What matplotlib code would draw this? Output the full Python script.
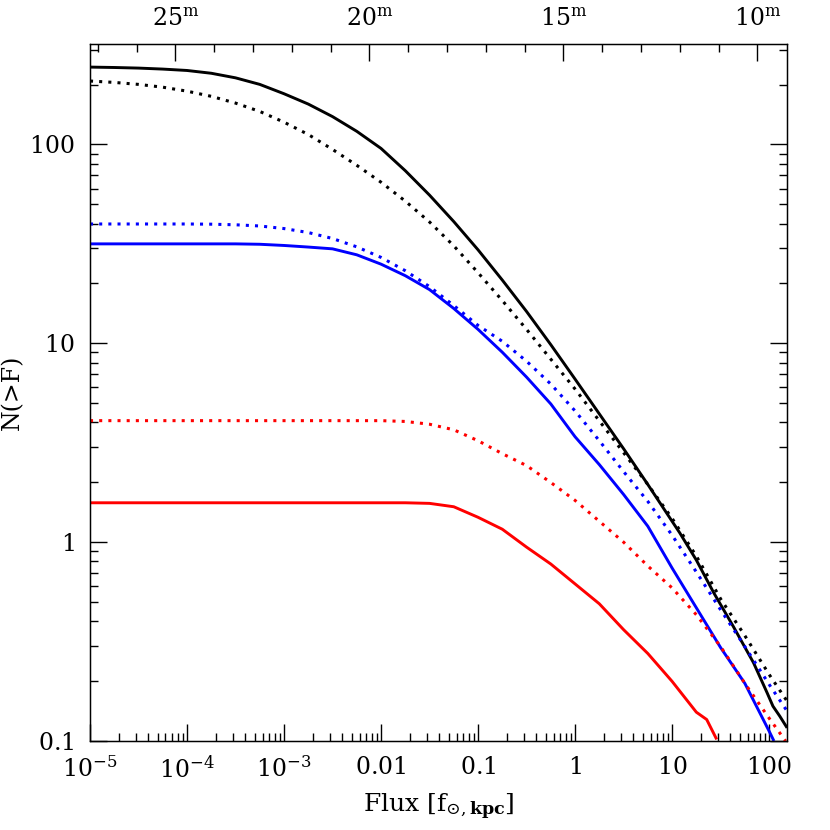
import numpy as np
import matplotlib
matplotlib.use("Agg")
import matplotlib.pyplot as plt
from matplotlib.ticker import NullFormatter

plt.rcParams['font.family'] = ['DejaVu Serif']
plt.rcParams['mathtext.fontset'] = 'dejavuserif'

# values, as log10(flux [f_sun,kpc]) and log10 N(>F)
lf_black = [-5, -4.75, -4.5, -4.25, -4, -3.75, -3.5, -3.25, -3, -2.75, -2.5, -2.25, -2,
            -1.75, -1.5, -1.25, -1, -0.75, -0.5, -0.25, 0, 0.25, 0.5, 0.75, 1,
            1.08, 1.25, 1.43, 1.63, 1.84, 1.98, 2.04, 2.11, 2.186]
ln_black = [2.389, 2.387, 2.384, 2.379, 2.372, 2.358, 2.335, 2.302, 2.255, 2.203, 2.14, 2.066, 1.98,
            1.868, 1.745, 1.612, 1.47, 1.318, 1.16, 0.993, 0.82, 0.645, 0.47, 0.29, 0.105,
            0.046, -0.09, -0.255, -0.423, -0.607, -0.758, -0.825, -0.875, -0.934]

lf_black_dot = [-5, -4.75, -4.5, -4.25, -4, -3.75, -3.5, -3.25, -3, -2.75, -2.5, -2.25, -2,
                -1.75, -1.5, -1.25, -1, -0.75, -0.5, -0.25, 0, 0.25, 0.5, 0.75, 1,
                1.25, 1.5, 1.75, 2, 2.186]
ln_black_dot = [2.319, 2.312, 2.302, 2.288, 2.268, 2.242, 2.208, 2.166, 2.112, 2.05, 1.975, 1.895, 1.81,
                1.715, 1.61, 1.49, 1.355, 1.215, 1.07, 0.92, 0.77, 0.61, 0.45, 0.29, 0.12,
                -0.07, -0.285, -0.47, -0.665, -0.80]

lf_blue = [-5, -4, -3.5, -3.25, -3, -2.75, -2.5, -2.25, -2, -1.75, -1.5, -1.25, -1,
           -0.75, -0.5, -0.25, 0, 0.25, 0.5, 0.75, 1, 1.25, 1.5, 1.75, 2, 2.05]
ln_blue = [1.500, 1.500, 1.500, 1.498, 1.492, 1.484, 1.475, 1.445, 1.398, 1.34, 1.27, 1.175, 1.07,
           0.955, 0.83, 0.695, 0.53, 0.39, 0.24, 0.08, -0.13, -0.33, -0.53, -0.71, -0.95, -1.0]

lf_blue_dot = [-5, -4, -3.75, -3.5, -3.25, -3, -2.75, -2.5, -2.25, -2, -1.75, -1.5, -1.25, -1,
               -0.75, -0.5, -0.25, 0, 0.25, 0.5, 0.75, 1, 1.25, 1.5, 1.75, 2, 2.186]
ln_blue_dot = [1.600, 1.600, 1.599, 1.596, 1.590, 1.577, 1.557, 1.527, 1.485, 1.432, 1.365, 1.285, 1.19, 1.09,
               1.01, 0.91, 0.795, 0.66, 0.51, 0.355, 0.205, 0.035, -0.15, -0.34, -0.525, -0.715, -0.85]

lf_red = [-5, -1.75, -1.5, -1.25, -1, -0.75, -0.5, -0.25, 0, 0.25, 0.5, 0.75, 1, 1.25, 1.357, 1.46]
ln_red = [0.198, 0.198, 0.195, 0.178, 0.125, 0.065, -0.025, -0.11, -0.21, -0.31, -0.44, -0.56, -0.70,
          -0.855, -0.892, -0.992]

lf_red_dot = [-5, -2, -1.75, -1.5, -1.25, -1, -0.75, -0.5, -0.25, 0, 0.25, 0.5, 0.75, 1,
              1.25, 1.5, 1.75, 2, 2.17]
ln_red_dot = [0.611, 0.611, 0.607, 0.593, 0.565, 0.51, 0.445, 0.385, 0.30, 0.21, 0.105, 0.0, -0.12, -0.23,
              -0.365, -0.525, -0.71, -0.885, -1.0]

xticks = [1e-5, 1e-4, 1e-3, 0.01, 0.1, 1, 10, 100]
xlabels = ['10^{-5}', '10^{-4}', '10^{-3}', '0.01', '0.1', '1', '10', '100']
yticks = [0.1, 1, 10, 100]
ylabels = ['0.1', '1', '10', '100']

# apparent magnitude of a source of flux F (in f_sun at 1 kpc)
mag_zero = 14.7
mags_major = [25, 20, 15, 10]
mags_minor = list(range(10, 28))

fig = plt.figure(figsize=(8.3, 8.3), dpi=100)
ax = fig.add_axes([90/830, 89/830, 697/830, 697/830])

solid = dict(lw=2.1, solid_capstyle='butt')
dotted = dict(lw=2.2, ls=(0, (1, 2)), dash_capstyle='butt')
series = [(lf_black, ln_black, 'black', solid), (lf_black_dot, ln_black_dot, 'black', dotted),
          (lf_blue, ln_blue, 'blue', solid), (lf_blue_dot, ln_blue_dot, 'blue', dotted),
          (lf_red, ln_red, 'red', solid), (lf_red_dot, ln_red_dot, 'red', dotted)]
for lf, ln, col, style in series:
    ax.plot(10**np.array(lf), 10**np.array(ln), color=col, **style)

ax.set_xscale('log')
ax.set_yscale('log')
ax.set_xlim(1e-5, 153)
ax.set_ylim(0.1, 320)

ax.set_xticks(xticks, [r'$\mathdefault{%s}$' % s for s in xlabels])
ax.set_yticks(yticks, [r'$\mathdefault{%s}$' % s for s in ylabels])
ax.xaxis.set_minor_formatter(NullFormatter())
ax.yaxis.set_minor_formatter(NullFormatter())
ax.tick_params(which='both', direction='in', top=False, right=True, width=1.0, labelsize=17)
ax.tick_params(which='major', length=12)
ax.tick_params(which='minor', length=6)
ax.tick_params(axis='x', pad=11)
ax.tick_params(axis='y', pad=11)
for sp in ax.spines.values():
    sp.set_linewidth(1.0)

ax.set_xlabel(r'Flux [f$_{\odot,\mathbf{kpc}}$]', fontsize=18)
ax.xaxis.set_label_coords(0.5, -0.072)
ax.set_ylabel('N(>F)', fontsize=17)
ax.yaxis.set_label_coords(-0.095, 0.5)

# magnitude scale on top
ax2 = ax.twiny()
ax2.set_xscale('log')
ax2.set_xlim(ax.get_xlim())
ax2.set_xticks([10**((mag_zero - m)/2.5) for m in mags_major],
               [r'$\mathdefault{%d^{\rm m}}$' % m for m in mags_major])
ax2.set_xticks([10**((mag_zero - m)/2.5) for m in mags_minor], minor=True)
ax2.xaxis.set_minor_formatter(NullFormatter())
ax2.tick_params(axis='x', which='both', direction='in', top=True, bottom=False,
                labeltop=True, labelbottom=False, width=1.0, labelsize=17, pad=9)
ax2.tick_params(axis='x', which='major', length=12)
ax2.tick_params(axis='x', which='minor', length=6)

fig.savefig('out.png', dpi=100)
